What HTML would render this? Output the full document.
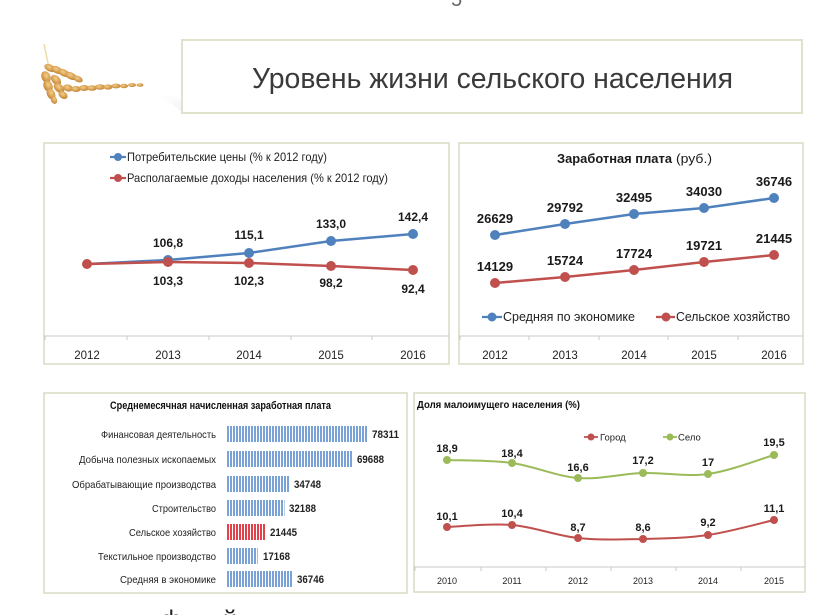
<!DOCTYPE html>
<html><head><meta charset="utf-8">
<style>
html,body{margin:0;padding:0;background:#fff;}
svg{display:block;}
text{font-family:"Liberation Sans","Noto Sans CJK SC",sans-serif;}
</style></head>
<body>
<svg width="840" height="615" viewBox="0 0 840 615" xmlns="http://www.w3.org/2000/svg">
<defs>
<pattern id="pb" patternUnits="userSpaceOnUse" width="3" height="20" x="227">
<rect x="0" y="0" width="3" height="20" fill="#ffffff"/>
<rect x="0" y="0" width="2" height="20" fill="#7ba2d6"/>
</pattern>
<pattern id="pr" patternUnits="userSpaceOnUse" width="3" height="20" x="227">
<rect x="0" y="0" width="3" height="20" fill="#ffffff"/>
<rect x="0" y="0" width="2" height="20" fill="#e2424c"/>
</pattern>
<linearGradient id="sh" x1="0" y1="0" x2="1" y2="1">
<stop offset="0" stop-color="#e6e6e6" stop-opacity="0"/>
<stop offset="1" stop-color="#dcdcdc" stop-opacity="0.9"/>
</linearGradient>
<radialGradient id="gw" cx="0.4" cy="0.4" r="0.6">
<stop offset="0" stop-color="#f6cf85"/>
<stop offset="1" stop-color="#c4863a"/>
</radialGradient>
</defs>

<!-- top page number fragment -->
<text x="451" y="6" font-size="20" fill="#666">5</text>

<!-- wheat -->
<g>
<line x1="44" y1="44" x2="49" y2="68" stroke="#ecdca8" stroke-width="1.5"/>
<g fill="url(#gw)">
<ellipse cx="50" cy="68" rx="6" ry="3.5" transform="rotate(25 50 68)"/>
<ellipse cx="57" cy="70" rx="6" ry="3.5" transform="rotate(25 57 70)"/>
<ellipse cx="64" cy="73" rx="6" ry="3.5" transform="rotate(25 64 73)"/>
<ellipse cx="71" cy="76" rx="6" ry="3.5" transform="rotate(25 71 76)"/>
<ellipse cx="78" cy="79" rx="5" ry="3" transform="rotate(25 78 79)"/>
<ellipse cx="46" cy="77" rx="6" ry="4.5" transform="rotate(65 46 77)"/>
<ellipse cx="48" cy="86" rx="6" ry="4.5" transform="rotate(65 48 86)"/>
<ellipse cx="51" cy="94" rx="6" ry="4" transform="rotate(65 51 94)"/>
<ellipse cx="54" cy="100" rx="4" ry="3" transform="rotate(65 54 100)"/>
<ellipse cx="56" cy="80" rx="6" ry="4" transform="rotate(45 56 80)"/>
<ellipse cx="59" cy="88" rx="6" ry="4" transform="rotate(40 59 88)"/>
<ellipse cx="63" cy="95" rx="5" ry="3.5" transform="rotate(35 63 95)"/>
<ellipse cx="68" cy="88" rx="5" ry="3.5" transform="rotate(15 68 88)"/>
<ellipse cx="76" cy="89" rx="5" ry="3"/>
<ellipse cx="84" cy="88" rx="5" ry="3"/>
<ellipse cx="92" cy="88" rx="5" ry="2.8"/>
<ellipse cx="100" cy="87" rx="5" ry="2.8"/>
<ellipse cx="108" cy="87" rx="4.5" ry="2.6"/>
<ellipse cx="116" cy="86" rx="4.5" ry="2.4"/>
<ellipse cx="124" cy="86" rx="4" ry="2.2"/>
<ellipse cx="132" cy="85" rx="4" ry="2"/>
<ellipse cx="140" cy="85" rx="3.5" ry="1.8"/>
</g>
</g>

<!-- title box shadow + box -->
<polygon points="160,96 184,113 200,113 176,96" fill="url(#sh)" opacity="0.6"/>
<polygon points="780,98 802,112 790,113 770,98" fill="url(#sh)" opacity="0.5"/>
<rect x="182" y="40" width="620" height="73" fill="#ffffff" stroke="#dfe3cb" stroke-width="2"/>
<text x="252" y="88" font-size="29" fill="#3a3a3a" textLength="481" lengthAdjust="spacingAndGlyphs">Уровень жизни сельского населения</text>

<!-- ========== Panel 1 ========== -->
<rect x="44" y="143" width="405" height="221" fill="#fff" stroke="#d9dcc4" stroke-width="1.5"/>
<line x1="44" y1="336" x2="449" y2="336" stroke="#c8c8c8" stroke-width="1"/>
<g stroke="#c8c8c8" stroke-width="1">
<line x1="45" y1="336" x2="45" y2="340"/><line x1="127" y1="336" x2="127" y2="340"/>
<line x1="209" y1="336" x2="209" y2="340"/><line x1="291" y1="336" x2="291" y2="340"/>
<line x1="372" y1="336" x2="372" y2="340"/>
</g>
<g font-size="11.5" fill="#222" text-anchor="middle">
<text x="87" y="359">2012</text><text x="168" y="359">2013</text><text x="249" y="359">2014</text><text x="331" y="359">2015</text><text x="413" y="359">2016</text>
</g>
<!-- legend -->
<line x1="110" y1="157" x2="126" y2="157" stroke="#4f81bd" stroke-width="2.2"/>
<circle cx="118" cy="157" r="4" fill="#4f81bd"/>
<text x="127" y="161" font-size="12" fill="#222" textLength="200" lengthAdjust="spacingAndGlyphs">Потребительские цены (% к 2012 году)</text>
<line x1="110" y1="178" x2="126" y2="178" stroke="#c0504d" stroke-width="2.2"/>
<circle cx="118" cy="178" r="4" fill="#c0504d"/>
<text x="127" y="182" font-size="12" fill="#222" textLength="261" lengthAdjust="spacingAndGlyphs">Располагаемые доходы населения (% к 2012 году)</text>
<!-- series -->
<polyline points="87,264 168,260 249,253 331,241 413,234" fill="none" stroke="#4f81bd" stroke-width="2.5"/>
<g fill="#4f81bd"><circle cx="168" cy="260" r="5"/><circle cx="249" cy="253" r="5"/><circle cx="331" cy="241" r="5"/><circle cx="413" cy="234" r="5"/></g>
<polyline points="87,264 168,262 249,263 331,266 413,270" fill="none" stroke="#c0504d" stroke-width="2.5"/>
<g fill="#c0504d"><circle cx="87" cy="264" r="5"/><circle cx="168" cy="262" r="5"/><circle cx="249" cy="263" r="5"/><circle cx="331" cy="266" r="5"/><circle cx="413" cy="270" r="5"/></g>
<g font-size="12" font-weight="bold" fill="#1a1a1a" text-anchor="middle">
<text x="168" y="247">106,8</text><text x="249" y="239">115,1</text><text x="331" y="228">133,0</text><text x="413" y="221">142,4</text>
<text x="168" y="285">103,3</text><text x="249" y="285">102,3</text><text x="331" y="287">98,2</text><text x="413" y="293">92,4</text>
</g>

<!-- ========== Panel 2 ========== -->
<rect x="459" y="143" width="344" height="221" fill="#fff" stroke="#d9dcc4" stroke-width="1.5"/>
<text x="557" y="163" font-size="13" font-weight="bold" fill="#1a1a1a" textLength="115" lengthAdjust="spacingAndGlyphs">Заработная плата</text>
<text x="676" y="163" font-size="13" fill="#1a1a1a" textLength="36" lengthAdjust="spacingAndGlyphs">(руб.)</text>
<line x1="459" y1="336" x2="803" y2="336" stroke="#c8c8c8" stroke-width="1"/>
<g stroke="#c8c8c8" stroke-width="1">
<line x1="460" y1="336" x2="460" y2="340"/><line x1="529" y1="336" x2="529" y2="340"/>
<line x1="599" y1="336" x2="599" y2="340"/><line x1="668" y1="336" x2="668" y2="340"/>
<line x1="738" y1="336" x2="738" y2="340"/>
</g>
<g font-size="11.5" fill="#222" text-anchor="middle">
<text x="495" y="359">2012</text><text x="565" y="359">2013</text><text x="634" y="359">2014</text><text x="704" y="359">2015</text><text x="774" y="359">2016</text>
</g>
<polyline points="495,235 565,224 634,214 704,208 774,198" fill="none" stroke="#4f81bd" stroke-width="2.5"/>
<g fill="#4f81bd"><circle cx="495" cy="235" r="5"/><circle cx="565" cy="224" r="5"/><circle cx="634" cy="214" r="5"/><circle cx="704" cy="208" r="5"/><circle cx="774" cy="198" r="5"/></g>
<polyline points="495,283 565,277 634,270 704,262 774,255" fill="none" stroke="#c0504d" stroke-width="2.5"/>
<g fill="#c0504d"><circle cx="495" cy="283" r="5"/><circle cx="565" cy="277" r="5"/><circle cx="634" cy="270" r="5"/><circle cx="704" cy="262" r="5"/><circle cx="774" cy="255" r="5"/></g>
<g font-size="13" font-weight="bold" fill="#1a1a1a" text-anchor="middle">
<text x="495" y="223">26629</text><text x="565" y="212">29792</text><text x="634" y="202">32495</text><text x="704" y="196">34030</text><text x="774" y="186">36746</text>
<text x="495" y="271">14129</text><text x="565" y="265">15724</text><text x="634" y="258">17724</text><text x="704" y="250">19721</text><text x="774" y="243">21445</text>
</g>
<line x1="482" y1="317" x2="502" y2="317" stroke="#4f81bd" stroke-width="2.2"/>
<circle cx="492" cy="317" r="4.5" fill="#4f81bd"/>
<text x="503" y="321" font-size="12.5" fill="#222" textLength="132" lengthAdjust="spacingAndGlyphs">Средняя по экономике</text>
<line x1="656" y1="317" x2="675" y2="317" stroke="#c0504d" stroke-width="2.2"/>
<circle cx="666" cy="317" r="4.5" fill="#c0504d"/>
<text x="676" y="321" font-size="12.5" fill="#222" textLength="114" lengthAdjust="spacingAndGlyphs">Сельское хозяйство</text>

<!-- ========== Panel 3 ========== -->
<rect x="44" y="393" width="363" height="200" fill="#fff" stroke="#d9dcc4" stroke-width="1.5"/>
<text x="110" y="409" font-size="11" font-weight="bold" fill="#111" textLength="221" lengthAdjust="spacingAndGlyphs">Среднемесячная начисленная заработная плата</text>
<g>
<rect x="227" y="426" width="140" height="16" fill="url(#pb)"/>
<rect x="227" y="451" width="125" height="16" fill="url(#pb)"/>
<rect x="227" y="476" width="62" height="16" fill="url(#pb)"/>
<rect x="227" y="500" width="57.5" height="16" fill="url(#pb)"/>
<rect x="227" y="524" width="38.3" height="16" fill="url(#pr)"/>
<rect x="227" y="548" width="30.7" height="16" fill="url(#pb)"/>
<rect x="227" y="571" width="65.7" height="16" fill="url(#pb)"/>
</g>
<g font-size="10.5" fill="#222" text-anchor="end">
<text x="216" y="438" textLength="115" lengthAdjust="spacingAndGlyphs">Финансовая деятельность</text>
<text x="216" y="463" textLength="137" lengthAdjust="spacingAndGlyphs">Добыча полезных ископаемых</text>
<text x="216" y="488" textLength="144" lengthAdjust="spacingAndGlyphs">Обрабатывающие производства</text>
<text x="216" y="512" textLength="64" lengthAdjust="spacingAndGlyphs">Строительство</text>
<text x="216" y="536" textLength="87" lengthAdjust="spacingAndGlyphs">Сельское хозяйство</text>
<text x="216" y="560" textLength="118" lengthAdjust="spacingAndGlyphs">Текстильное производство</text>
<text x="216" y="583" textLength="96" lengthAdjust="spacingAndGlyphs">Средняя в экономике</text>
</g>
<g font-size="11" font-weight="bold" fill="#222">
<text x="372" y="438" textLength="27" lengthAdjust="spacingAndGlyphs">78311</text>
<text x="357" y="463" textLength="27" lengthAdjust="spacingAndGlyphs">69688</text>
<text x="294" y="488" textLength="27" lengthAdjust="spacingAndGlyphs">34748</text>
<text x="289" y="512" textLength="27" lengthAdjust="spacingAndGlyphs">32188</text>
<text x="270" y="536" textLength="27" lengthAdjust="spacingAndGlyphs">21445</text>
<text x="263" y="560" textLength="27" lengthAdjust="spacingAndGlyphs">17168</text>
<text x="297" y="583" textLength="27" lengthAdjust="spacingAndGlyphs">36746</text>
</g>

<!-- ========== Panel 4 ========== -->
<rect x="414" y="393" width="391" height="199" fill="#fff" stroke="#d9dcc4" stroke-width="1.5"/>
<text x="417" y="408" font-size="10" font-weight="bold" fill="#111" textLength="163" lengthAdjust="spacingAndGlyphs">Доля малоимущего населения (%)</text>
<line x1="584" y1="437" x2="598" y2="437" stroke="#c0504d" stroke-width="1.8"/>
<circle cx="591" cy="437" r="3.5" fill="#c0504d"/>
<text x="600" y="440.5" font-size="9.5" fill="#222">Город</text>
<line x1="663" y1="437" x2="677" y2="437" stroke="#9bbb59" stroke-width="1.8"/>
<circle cx="670" cy="437" r="3.5" fill="#9bbb59"/>
<text x="678" y="440.5" font-size="9.5" fill="#222">Село</text>
<line x1="414" y1="567" x2="805" y2="567" stroke="#c8c8c8" stroke-width="1"/>
<g stroke="#c8c8c8" stroke-width="1">
<line x1="415" y1="567" x2="415" y2="571"/><line x1="481" y1="567" x2="481" y2="571"/>
<line x1="546" y1="567" x2="546" y2="571"/><line x1="611" y1="567" x2="611" y2="571"/>
<line x1="676" y1="567" x2="676" y2="571"/><line x1="741" y1="567" x2="741" y2="571"/>
</g>
<g font-size="9" fill="#222" text-anchor="middle">
<text x="447" y="584">2010</text><text x="512" y="584">2011</text><text x="578" y="584">2012</text><text x="643" y="584">2013</text><text x="708" y="584">2014</text><text x="774" y="584">2015</text>
</g>
<path d="M447,460 C457.8,460.5 490.2,460 512,463 C533.8,466 556.2,476.3 578,478 C599.8,479.7 621.3,473.7 643,473 C664.7,472.3 686.2,477 708,474 C729.8,471 763,458.2 774,455" fill="none" stroke="#9bbb59" stroke-width="2"/>
<g fill="#9bbb59"><circle cx="447" cy="460" r="4"/><circle cx="512" cy="463" r="4"/><circle cx="578" cy="478" r="4"/><circle cx="643" cy="473" r="4"/><circle cx="708" cy="474" r="4"/><circle cx="774" cy="455" r="4"/></g>
<path d="M447,527 C457.8,526.7 490.2,523.2 512,525 C533.8,526.8 556.2,535.7 578,538 C599.8,540.3 621.3,539.5 643,539 C664.7,538.5 686.2,538.2 708,535 C729.8,531.8 763,522.5 774,520" fill="none" stroke="#c0504d" stroke-width="2"/>
<g fill="#c0504d"><circle cx="447" cy="527" r="4"/><circle cx="512" cy="525" r="4"/><circle cx="578" cy="538" r="4"/><circle cx="643" cy="539" r="4"/><circle cx="708" cy="535" r="4"/><circle cx="774" cy="520" r="4"/></g>
<g font-size="11" font-weight="bold" fill="#1a1a1a" text-anchor="middle">
<text x="447" y="452">18,9</text><text x="512" y="457">18,4</text><text x="578" y="471">16,6</text><text x="643" y="464">17,2</text><text x="708" y="466">17</text><text x="774" y="446">19,5</text>
<text x="447" y="520">10,1</text><text x="512" y="517">10,4</text><text x="578" y="531">8,7</text><text x="643" y="531">8,6</text><text x="708" y="526">9,2</text><text x="774" y="512">11,1</text>
</g>

<!-- bottom cut-off text fragments -->
<text x="161" y="628" font-size="25" fill="#222">ф</text>
<text x="223" y="628" font-size="25" fill="#222">й</text>
</svg>
</body></html>
